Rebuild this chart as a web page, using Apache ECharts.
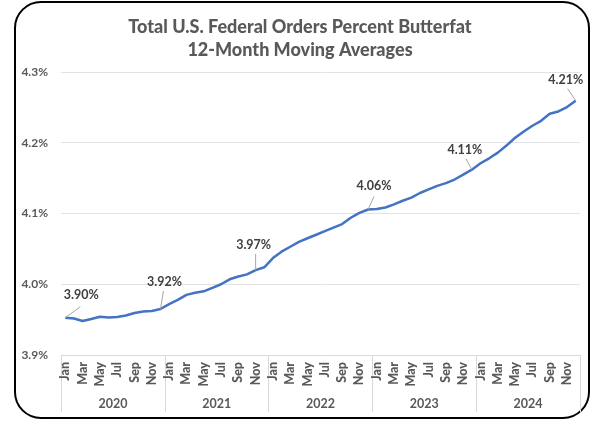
<!DOCTYPE html>
<html>
<head>
<meta charset="utf-8">
<script src="https://cdn.jsdelivr.net/npm/echarts@6/dist/echarts.min.js"></script>
<style>
html,body{margin:0;padding:0;background:#fff;}
#c{width:600px;height:422px;}
</style>
</head>
<body>
<div id="c"></div>
<script>
// ---- data ----
const years = ['2020', '2021', '2022', '2023', '2024'];
const monthNames = ['Jan','Feb','Mar','Apr','May','Jun','Jul','Aug','Sep','Oct','Nov','Dec'];
const butterfat = [
  3.9527, 3.9516, 3.9480, 3.9510, 3.9540, 3.9530, 3.9537, 3.9558, 3.9594, 3.9615, 3.9622, 3.9650,
  3.9720, 3.9780, 3.9850, 3.9880, 3.9900, 3.9950, 4.0000, 4.0070, 4.0110, 4.0140, 4.0200, 4.0240,
  4.0370, 4.0460, 4.0530, 4.0600, 4.0650, 4.0700, 4.0750, 4.0800, 4.0850, 4.0940, 4.1010, 4.1057,
  4.1063, 4.1085, 4.1130, 4.1180, 4.1225, 4.1290, 4.1340, 4.1390, 4.1430, 4.1480, 4.1550, 4.1620,
  4.1710, 4.1780, 4.1860, 4.1960, 4.2070, 4.2160, 4.2240, 4.2310, 4.2410, 4.2442, 4.2505, 4.2594
];
const annotIndex = [0, 11, 22, 35, 47, 59];
const annotText = ['3.90%', '3.92%', '3.97%', '4.06%', '4.11%', '4.21%'];
const yTicks = [3.9, 4.0, 4.1, 4.2, 4.3];

// ---- derived ----
const months = [];
years.forEach(function (y) { monthNames.forEach(function (m) { months.push(m); }); });
const annotData = annotIndex.map(function (i, k) {
  return { value: [i, butterfat[i]], name: annotText[k] };
});

// label placement relative to the point (style only): [labelDx, labelDy, leaderDx, leaderDy]
const LABEL_SHIFT = [
  [16, -23, 15, -11],
  [4, -27, 3, -18],
  [-2, -25, 0, -16],
  [6, -23, 6, -13],
  [-7, -20, -6, -11],
  [-10, -21, -8, -12]
];

const FONT = 'Lato, "Open Sans", sans-serif';
const GREY = '#595959';

const chart = echarts.init(document.getElementById('c'), null, {renderer: 'canvas'});
chart.setOption({
  animation: false,
  backgroundColor: '#fff',
  title: {
    text: 'Total U.S. Federal Orders Percent Butterfat\n12-Month Moving Averages',
    left: 'center',
    top: 11,
    textStyle: { fontFamily: FONT, fontSize: 18, fontWeight: 900, color: GREY, lineHeight: 23 }
  },
  graphic: [{
    type: 'rect',
    z: -1,
    shape: { x: 15, y: 2, width: 574, height: 416, r: 26 },
    style: { fill: 'none', stroke: '#000', lineWidth: 2 }
  }],
  grid: { left: 61, right: 20, top: 72, bottom: 67, containLabel: false },
  xAxis: [{
    type: 'category',
    data: months,
    boundaryGap: true,
    axisLine: { show: true, lineStyle: { color: '#d9d9d9' } },
    axisTick: { show: false },
    axisLabel: {
      interval: 1, rotate: 90, margin: 7,
      fontFamily: FONT, fontSize: 12.5, fontWeight: 900, color: GREY
    }
  }, {
    type: 'category',
    data: years,
    position: 'bottom',
    offset: 57,
    boundaryGap: true,
    axisLine: { show: false },
    axisTick: { show: true, inside: true, length: 57, lineStyle: { color: '#d9d9d9' } },
    axisLabel: { inside: true, margin: 2, fontFamily: FONT, fontSize: 12.5, fontWeight: 'bold', color: GREY }
  }],
  yAxis: {
    type: 'value',
    min: yTicks[0],
    max: yTicks[yTicks.length - 1],
    interval: 0.1,
    axisLine: { show: false },
    axisTick: { show: false },
    splitLine: { lineStyle: { color: '#e3e3e3', width: 1 } },
    axisLabel: {
      margin: 13,
      fontFamily: FONT, fontSize: 12, fontWeight: 'bold', color: GREY,
      formatter: function (v) { return v.toFixed(1) + '%'; }
    }
  },
  series: [{
    type: 'line',
    xAxisIndex: 0,
    data: butterfat,
    showSymbol: false,
    smooth: false,
    lineStyle: { color: '#4472C4', width: 2.5 },
    z: 2
  }, {
    type: 'custom',
    xAxisIndex: 0,
    data: annotData,
    z: 3,
    silent: true,
    renderItem: function (params, api) {
      const p = api.coord([api.value(0), api.value(1)]);
      const s = LABEL_SHIFT[params.dataIndex];
      return {
        type: 'group',
        children: [{
          type: 'line',
          shape: { x1: p[0], y1: p[1], x2: p[0] + s[2], y2: p[1] + s[3] },
          style: { stroke: '#a6a6a6', lineWidth: 1 }
        }, {
          type: 'text',
          x: p[0] + s[0],
          y: p[1] + s[1],
          style: {
            text: annotText[params.dataIndex],
            fontFamily: FONT, fontSize: 12.5, fontWeight: 'bold', fill: '#404040',
            align: 'center', verticalAlign: 'middle'
          }
        }]
      };
    }
  }]
});
</script>
</body>
</html>
